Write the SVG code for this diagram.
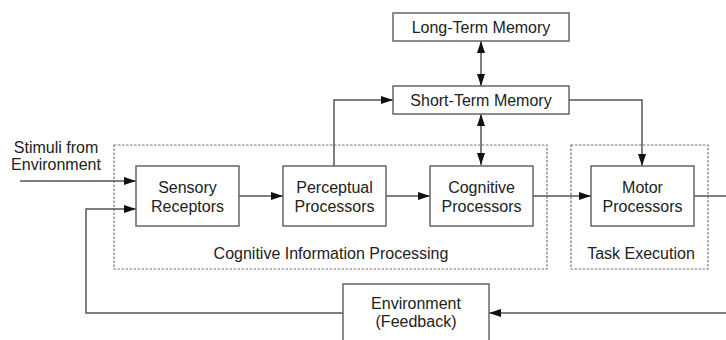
<svg xmlns="http://www.w3.org/2000/svg" width="726" height="340" viewBox="0 0 726 340">
<defs>
<marker id="arr" markerUnits="userSpaceOnUse" markerWidth="12" markerHeight="8" refX="12" refY="4" orient="auto-start-reverse"><path d="M0,0 L12,4 L0,8 z" fill="#111"/></marker>
<style>
.box{fill:#fff;stroke:#666;stroke-width:1.5}
.grp{fill:none;stroke:#777;stroke-width:1.2;stroke-dasharray:2.5 1.5}
.t{font-family:"Liberation Sans",Arial,sans-serif;font-size:16px;fill:#222;text-anchor:middle}
.c{fill:none;stroke:#555;stroke-width:1.5}
</style>
</defs>
<rect width="726" height="340" fill="#fff"/>
<g id="group-cip"><rect class="grp" x="114" y="145" width="433" height="124"/><text class="t" x="331" y="259">Cognitive Information Processing</text></g>
<g id="group-task"><rect class="grp" x="571" y="145" width="137" height="124"/><text class="t" x="641" y="259">Task Execution</text></g>
<g id="connectors">
<path class="c" d="M20 181 H136" marker-end="url(#arr)"/>
<path class="c" d="M343 313 H86 V209 H136" marker-end="url(#arr)"/>
<path class="c" d="M239 196 H283" marker-end="url(#arr)"/>
<path class="c" d="M386 196 H430" marker-end="url(#arr)"/>
<path class="c" d="M533 196 H591" marker-end="url(#arr)"/>
<path class="c" d="M694 196 H726"/>
<path class="c" d="M726 313 H489" marker-end="url(#arr)"/>
<path class="c" d="M334 166 V100 H393" marker-end="url(#arr)"/>
<path class="c" d="M569 100 H642 V166" marker-end="url(#arr)"/>
<path class="c" d="M481 41 V86" marker-start="url(#arr)" marker-end="url(#arr)"/>
<path class="c" d="M481 114 V165" marker-start="url(#arr)" marker-end="url(#arr)"/>
</g>
<g id="stimuli"><text class="t" x="56" y="153">Stimuli from</text><text class="t" x="56" y="170">Environment</text></g>
<g id="ltm"><rect class="box" x="393" y="13" width="176" height="28"/><text class="t" x="481" y="33">Long-Term Memory</text></g>
<g id="stm"><rect class="box" x="393" y="86" width="176" height="28"/><text class="t" x="481" y="106">Short-Term Memory</text></g>
<g id="sensory"><rect class="box" x="136" y="166" width="103" height="60"/><text class="t" x="187.5" y="193">Sensory</text><text class="t" x="187.5" y="212">Receptors</text></g>
<g id="perceptual"><rect class="box" x="283" y="166" width="103" height="60"/><text class="t" x="334.5" y="193">Perceptual</text><text class="t" x="334.5" y="212">Processors</text></g>
<g id="cognitive"><rect class="box" x="430" y="166" width="103" height="60"/><text class="t" x="481.5" y="193">Cognitive</text><text class="t" x="481.5" y="212">Processors</text></g>
<g id="motor"><rect class="box" x="591" y="166" width="103" height="60"/><text class="t" x="642.5" y="193">Motor</text><text class="t" x="642.5" y="212">Processors</text></g>
<g id="environment"><rect class="box" x="343" y="284" width="146" height="70"/><text class="t" x="416" y="309">Environment</text><text class="t" x="416" y="327">(Feedback)</text></g>
</svg>
